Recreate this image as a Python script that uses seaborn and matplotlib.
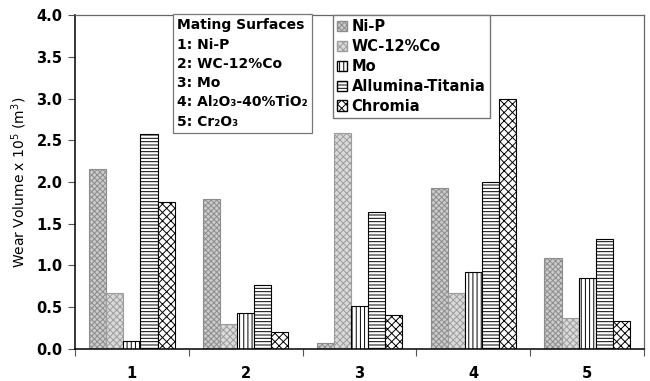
import matplotlib
matplotlib.use("Agg")
import matplotlib.pyplot as plt
import seaborn as sns
import pandas as pd
import numpy as np

categories = ["1", "2", "3", "4", "5"]
series_names = ["Ni-P", "WC-12%Co", "Mo", "Allumina-Titania", "Chromia"]
ni_p = [2.15, 1.80, 0.07, 1.93, 1.09]
wc_co = [0.67, 0.30, 2.59, 0.67, 0.37]
mo = [0.09, 0.43, 0.51, 0.92, 0.85]
alumina_titania = [2.58, 0.77, 1.64, 2.00, 1.32]
chromia = [1.76, 0.20, 0.41, 2.99, 0.34]
y_ticks = [0.0, 0.5, 1.0, 1.5, 2.0, 2.5, 3.0, 3.5, 4.0]

sns.set_theme(style="white")
plt.rcParams["font.family"] = ["DejaVu Sans"]
plt.rcParams["hatch.linewidth"] = 0.7
plt.rcParams["text.color"] = "black"
plt.rcParams["axes.labelcolor"] = "black"
plt.rcParams["xtick.color"] = "black"
plt.rcParams["ytick.color"] = "black"

rows = []
for name, vals in zip(series_names, [ni_p, wc_co, mo, alumina_titania, chromia]):
    for c, v in zip(categories, vals):
        rows.append({"cat": c, "series": name, "value": v})
df = pd.DataFrame(rows)

fig = plt.figure(figsize=(6.5, 3.81), dpi=100)
ax = fig.add_axes([0.1154, 0.084, 0.8754, 0.8766])

sns.barplot(data=df, x="cat", y="value", hue="series", order=categories,
            hue_order=series_names, ax=ax, width=0.75, gap=0, errorbar=None,
            saturation=1, legend=True)

styles = {
    "Ni-P": dict(fc="#cccccc", ec="#8c8c8c", hatch="xxxxxx"),
    "WC-12%Co": dict(fc="#dadada", ec="#9c9c9c", hatch="xxxxx"),
    "Mo": dict(fc="white", ec="black", hatch="||||"),
    "Allumina-Titania": dict(fc="white", ec="black", hatch="-----"),
    "Chromia": dict(fc="white", ec="black", hatch="xxxx"),
}
n = len(categories)
for i, cont in enumerate(ax.containers):
    st = styles[series_names[i]]
    for p in cont:
        p.set_facecolor(st["fc"])
        p.set_edgecolor(st["ec"])
        p.set_hatch(st["hatch"])
        p.set_linewidth(0.8)

ax.set_ylim(0, 4.0)
ax.set_xlim(-0.5, n - 0.5)
ax.set_yticks(y_ticks)
ax.set_yticklabels([f"{t:.1f}" for t in y_ticks], fontweight="bold", fontsize=10.5)
ax.set_xticks(np.arange(-0.5, n, 1.0))
ax.set_xticklabels([])
ax.set_xticks(np.arange(n), minor=True)
ax.set_xticklabels(categories, minor=True, fontweight="bold", fontsize=10.5)
ax.tick_params(axis="x", which="major", length=5, width=0.8, direction="out", bottom=True, color="#555555")
ax.tick_params(axis="x", which="minor", length=0, pad=12)
ax.tick_params(axis="y", length=5, width=0.8, direction="out", left=True, color="#555555", pad=4)
ax.set_xlabel("")
ax.set_ylabel(r"Wear Volume x 10$^5$ (m$^3$)", fontsize=10, labelpad=5)

for s in ["top", "right"]:
    ax.spines[s].set_color("#666666")
    ax.spines[s].set_linewidth(0.9)
for s in ["left", "bottom"]:
    ax.spines[s].set_color("black")
    ax.spines[s].set_linewidth(1.1)

handles, labels = ax.get_legend_handles_labels()
for h, name in zip(handles, labels):
    st = styles[name]
    h.set_facecolor(st["fc"])
    h.set_edgecolor(st["ec"])
    h.set_hatch(st["hatch"])
ax.legend(handles, labels, loc="upper left", bbox_to_anchor=(0.453, 1.0),
          frameon=True, fancybox=False, edgecolor="#777777", framealpha=1,
          prop={"weight": "bold", "size": 10.5}, handlelength=0.7, handleheight=0.7,
          handletextpad=0.3, labelspacing=0.33, borderpad=0.3, borderaxespad=0)

info = ("Mating Surfaces\n1: Ni-P\n2: WC-12%Co\n3: Mo\n"
        "4: Al\u2082O\u2083-40%TiO\u2082\n5: Cr\u2082O\u2083")
ax.text(0.18, 0.99, info, transform=ax.transAxes, ha="left", va="top",
        fontsize=10, fontweight="bold", linespacing=1.48,
        bbox=dict(boxstyle="square,pad=0.3", fc="white", ec="#777777", lw=0.9))

fig.savefig("out.png", dpi=100)
